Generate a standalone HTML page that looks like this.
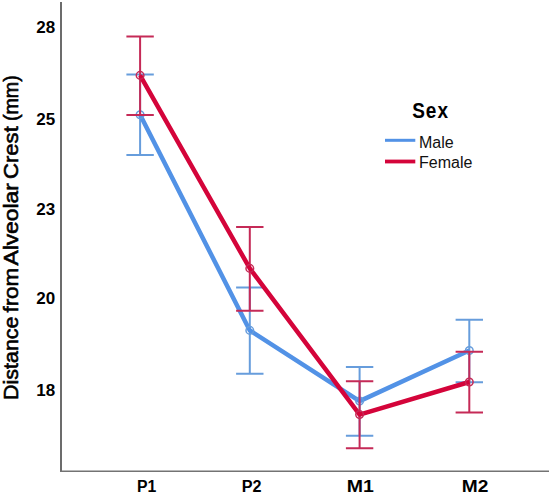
<!DOCTYPE html>
<html><head><meta charset="utf-8"><style>
html,body{margin:0;padding:0;background:#fff;width:551px;height:494px;overflow:hidden}
svg{display:block;font-family:"Liberation Sans",sans-serif}
</style></head><body>
<svg width="551" height="494" viewBox="0 0 551 494">
<rect width="551" height="494" fill="#fff"/>
<path d="M61 2V472" stroke="#6c6c6c" stroke-width="2" fill="none"/>
<path d="M60 471.3H549" stroke="#737373" stroke-width="1.6" fill="none"/>
<g font-weight="bold" font-size="17" fill="#000" text-anchor="end">
<text x="55.1" y="33.2">28</text><text x="55.1" y="124.5">25</text><text x="55.1" y="215.0">23</text><text x="55.1" y="304.2">20</text><text x="55.1" y="395.7">18</text>
</g>
<g font-weight="bold" font-size="16.8" fill="#000">
<text x="137.1" y="491.5" textLength="19.3" lengthAdjust="spacingAndGlyphs">P1</text><text x="241.8" y="491.5" textLength="19.8" lengthAdjust="spacingAndGlyphs">P2</text><text x="346.8" y="491.5" textLength="27.1" lengthAdjust="spacingAndGlyphs">M1</text><text x="461.8" y="491.5" textLength="26.6" lengthAdjust="spacingAndGlyphs">M2</text>
</g>
<text transform="translate(17.8,399.9) rotate(-90)" font-size="20.8" textLength="83.4" lengthAdjust="spacingAndGlyphs" fill="#000" stroke="#000" stroke-width="0.6">Distance</text>
<text transform="translate(17.8,312.6) rotate(-90)" font-size="20.8" textLength="44.9" lengthAdjust="spacingAndGlyphs" fill="#000" stroke="#000" stroke-width="0.6">from</text>
<text transform="translate(17.8,265.6) rotate(-90)" font-size="20.8" textLength="82.5" lengthAdjust="spacingAndGlyphs" fill="#000" stroke="#000" stroke-width="0.6">Alveolar</text>
<text transform="translate(17.8,179.0) rotate(-90)" font-size="20.8" textLength="52.8" lengthAdjust="spacingAndGlyphs" fill="#000" stroke="#000" stroke-width="0.6">Crest</text>
<text transform="translate(17.8,121.1) rotate(-90)" font-size="20.8" textLength="45.9" lengthAdjust="spacingAndGlyphs" fill="#000" stroke="#000" stroke-width="0.6">(mm)</text>
<path d="M140.1 74.6V155.1M126.4 74.6H153.8M126.4 155.1H153.8" stroke="#679ddc" stroke-width="2" fill="none"/>
<path d="M249.8 287.4V373.8M236.1 287.4H263.5M236.1 373.8H263.5" stroke="#679ddc" stroke-width="2" fill="none"/>
<path d="M359.6 366.9V435.7M345.9 366.9H373.3M345.9 435.7H373.3" stroke="#679ddc" stroke-width="2" fill="none"/>
<path d="M469.3 319.7V382.2M455.6 319.7H483.0M455.6 382.2H483.0" stroke="#679ddc" stroke-width="2" fill="none"/>
<polyline points="140.1,114.8 249.8,330.4 359.6,401.1 469.3,350.5" stroke="#5292e6" stroke-width="4.5" fill="none" stroke-linejoin="round" stroke-linecap="butt"/>
<circle cx="140.1" cy="114.8" r="3.8" stroke="#679ddc" stroke-width="1.5" fill="none"/>
<circle cx="249.8" cy="330.4" r="3.8" stroke="#679ddc" stroke-width="1.5" fill="none"/>
<circle cx="359.6" cy="401.1" r="3.8" stroke="#679ddc" stroke-width="1.5" fill="none"/>
<circle cx="469.3" cy="350.5" r="3.8" stroke="#679ddc" stroke-width="1.5" fill="none"/>
<path d="M140.1 36.6V115.0M126.4 36.6H153.8M126.4 115.0H153.8" stroke="#c52a57" stroke-width="2" fill="none"/>
<path d="M249.8 226.9V310.8M236.1 226.9H263.5M236.1 310.8H263.5" stroke="#c52a57" stroke-width="2" fill="none"/>
<path d="M359.6 381.3V448.3M345.9 381.3H373.3M345.9 448.3H373.3" stroke="#c52a57" stroke-width="2" fill="none"/>
<path d="M469.3 351.7V412.5M455.6 351.7H483.0M455.6 412.5H483.0" stroke="#c52a57" stroke-width="2" fill="none"/>
<polyline points="140.1,75.4 249.8,268.4 359.6,414.6 469.3,382.0" stroke="#d4043a" stroke-width="4.5" fill="none" stroke-linejoin="round" stroke-linecap="butt"/>
<circle cx="140.1" cy="75.4" r="3.8" stroke="#c52a57" stroke-width="1.5" fill="none"/>
<circle cx="249.8" cy="268.4" r="3.8" stroke="#c52a57" stroke-width="1.5" fill="none"/>
<circle cx="359.6" cy="414.6" r="3.8" stroke="#c52a57" stroke-width="1.5" fill="none"/>
<circle cx="469.3" cy="382.0" r="3.8" stroke="#c52a57" stroke-width="1.5" fill="none"/>
<text transform="translate(412.2,117.5) scale(1,1.15)" font-weight="bold" font-size="19" letter-spacing="1" fill="#000">Sex</text>
<path d="M385 140.3H415.3" stroke="#5292e6" stroke-width="3"/>
<path d="M385 161.5H415.3" stroke="#d4043a" stroke-width="3.8"/>
<text x="419" y="148" font-size="16" fill="#111">Male</text>
<text x="419" y="168.1" font-size="16" fill="#111">Female</text>
</svg>
</body></html>
